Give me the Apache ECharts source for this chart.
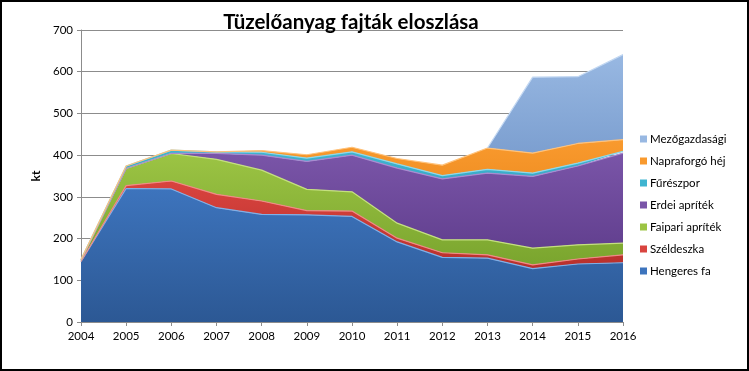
<!DOCTYPE html>
<html><head><meta charset="utf-8">
<script src="https://cdn.jsdelivr.net/npm/echarts@6/dist/echarts.min.js"></script>
<style>html,body{margin:0;padding:0;background:#fff}#c{width:749px;height:371px;box-sizing:border-box;border:2px solid #000}</style>
</head><body><div id="c"></div>
<script>
const years = ['2004','2005','2006','2007','2008','2009','2010','2011','2012','2013','2014','2015','2016'];
const hengeresFa = [145,320,319,274,258,257,253,192,155,153,128,139,142];
const szeldeszka = [0,7,19,32,32,10,13,9,11,8,9,12,19];
const faipariApritek = [3,41,66,84,74,51,46,36,31,36,40,34,28];
const erdeiApritek = [0,0,0,14,36,67,88,132,146,160,172,189,216];
const fureszpor = [2,6,8,4,7,8,8,10,8,9,8,7,4];
const napraforgoHej = [0,0,0,0,4,8,11,13,25,51,48,47,28];
const mezogazdasagi = [null,null,null,null,null,null,null,null,null,0,182,160,204];
const yTicks = [0,100,200,300,400,500,600,700];

const names = ['Hengeres fa','Széldeszka','Faipari apríték','Erdei apríték','Fűrészpor','Napraforgó héj','Mezőgazdasági'];
const datas = [hengeresFa,szeldeszka,faipariApritek,erdeiApritek,fureszpor,napraforgoHej,mezogazdasagi];
const cols = [['#3d74bd','#2c5894','#7fb0e8'],['#d9443f','#b8302c','#f08a86'],['#9cc444','#7aa52e','#c4e07e'],['#7a55a8','#5f3d8c','#a98bd0'],['#3fb4d0','#2a95b0','#8fd8ea'],['#f99a2e','#e27d12','#ffc27a'],['#98b8e2','#7c9fd0','#c3d8f2']];
const font = 'Lato, "Open Sans", sans-serif';
const series = names.map((n,i)=>({
  name:n, type:'line', stack:'total', data:datas[i], symbol:'none', smooth:false,
  lineStyle:{width:1.2,color:cols[i][2]},
  itemStyle:{color:cols[i][0]},
  areaStyle:{opacity:1,color:{type:'linear',x:0,y:0,x2:0,y2:1,colorStops:[{offset:0,color:cols[i][0]},{offset:1,color:cols[i][1]}]}},
  emphasis:{disabled:true}
}));
const chart = echarts.init(document.getElementById('c'),null,{renderer:'canvas'});
chart.setOption({
  animation:false,
  title:{text:'Tüzelőanyag fajták eloszlása',left:344,textAlign:'center',top:5,textStyle:{fontFamily:font,fontSize:20.5,fontWeight:'bold',color:'#000'}},
  grid:{left:79,right:124,top:28,bottom:47},
  legend:{orient:'vertical',left:633,top:126,itemWidth:7,itemHeight:7,itemGap:10,icon:'rect',
    data:names.slice().reverse(),textStyle:{fontFamily:font,fontSize:11.5,color:'#000',padding:[0,0,0,-2]}},
  xAxis:{type:'category',data:years,boundaryGap:false,
    axisLine:{lineStyle:{color:'#8c8c8c'}},axisTick:{show:true,length:4,lineStyle:{color:'#8c8c8c'}},
    axisLabel:{fontFamily:font,fontSize:11.5,color:'#000',margin:8}},
  yAxis:{type:'value',min:0,max:700,interval:100,name:'kt',nameLocation:'middle',nameGap:38,
    nameTextStyle:{fontFamily:font,fontSize:12,fontWeight:'bold',color:'#000'},
    axisLine:{show:true,lineStyle:{color:'#8c8c8c'}},axisTick:{show:true,length:4,lineStyle:{color:'#8c8c8c'}},
    splitLine:{lineStyle:{color:'#8c8c8c'}},
    axisLabel:{fontFamily:font,fontSize:11.5,color:'#000',margin:8,formatter:v=>yTicks.includes(v)?String(v):''}},
  series:series
});
</script></body></html>
